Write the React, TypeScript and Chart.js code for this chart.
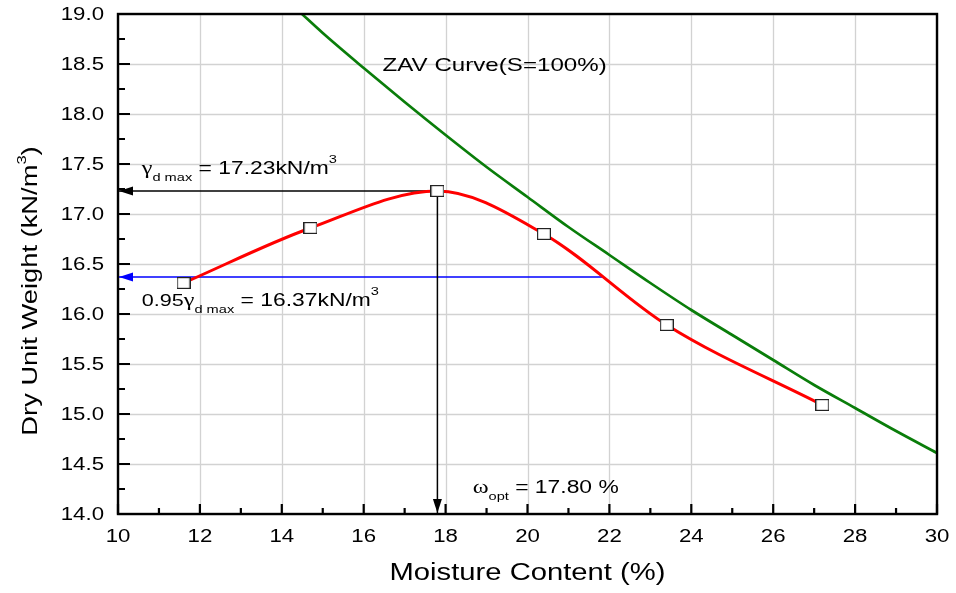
import React, { useEffect, useRef } from "react";
import { Chart, registerables } from "chart.js";

Chart.register(...registerables);

// ---------- data ----------
const moisture = [11.6, 14.7, 17.8, 20.4, 23.4, 27.2];
const dryUnitWeight = [16.31, 16.86, 17.23, 16.8, 15.89, 15.09];

const zavMoisture = [14.44, 15, 16, 17, 18, 19, 20, 21, 22, 23, 24, 25, 26, 27, 28, 29, 30];
const zavWeight = [19.02, 18.81, 18.46, 18.12, 17.79, 17.47, 17.17, 16.87, 16.59, 16.31, 16.04, 15.79, 15.54, 15.29, 15.06, 14.83, 14.61];

const gammaMax = 17.23;
const wOpt = 17.8;
const gamma95 = 16.37;
const gamma95RightX = 21.82;

const xTicks = [10, 12, 14, 16, 18, 20, 22, 24, 26, 28, 30];
const xTickLabels = ["10", "12", "14", "16", "18", "20", "22", "24", "26", "28", "30"];
const yTicks = [14.0, 14.5, 15.0, 15.5, 16.0, 16.5, 17.0, 17.5, 18.0, 18.5, 19.0];
const yTickLabels = ["14.0", "14.5", "15.0", "15.5", "16.0", "16.5", "17.0", "17.5", "18.0", "18.5", "19.0"];

const xTitle = "Moisture Content (%)";
const yTitle = "Dry Unit Weight (kN/m";
const zavLabel = "ZAV Curve(S=100%)";

// ---------- text helpers ----------
const SANS = '"Liberation Sans", Arial, Helvetica, sans-serif';
const SERIF = '"Liberation Serif", "Times New Roman", serif';
const S = 1.27; // horizontal stretch of the original's type

type Part = { t: string; size: number; serif?: boolean; dy?: number };

function partsWidth(ctx: CanvasRenderingContext2D, parts: Part[]) {
  let w = 0;
  for (const p of parts) {
    ctx.font = `${p.size}px ${p.serif ? SERIF : SANS}`;
    w += ctx.measureText(p.t).width * S;
  }
  return w;
}

function drawParts(ctx: CanvasRenderingContext2D, parts: Part[], x: number, y: number) {
  let cx = x;
  ctx.textAlign = "left";
  ctx.textBaseline = "alphabetic";
  for (const p of parts) {
    ctx.font = `${p.size}px ${p.serif ? SERIF : SANS}`;
    const w = ctx.measureText(p.t).width * S;
    ctx.save();
    ctx.translate(cx, y + (p.dy || 0));
    ctx.scale(S, 1);
    ctx.fillText(p.t, 0, 0);
    ctx.restore();
    cx += w;
  }
}

function arrowHead(ctx: CanvasRenderingContext2D, tx: number, ty: number, dir: "left" | "down", color: string) {
  const len = 14;
  const half = 4.5;
  ctx.save();
  ctx.fillStyle = color;
  ctx.beginPath();
  if (dir === "left") {
    ctx.moveTo(tx, ty);
    ctx.lineTo(tx + len, ty - half);
    ctx.lineTo(tx + len, ty + half);
  } else {
    ctx.moveTo(tx, ty);
    ctx.lineTo(tx - half, ty - len);
    ctx.lineTo(tx + half, ty - len);
  }
  ctx.closePath();
  ctx.fill();
  ctx.restore();
}

const decorPlugin = {
  id: "decor",
  beforeDatasetsDraw(chart: any) {
    const ctx: CanvasRenderingContext2D = chart.ctx;
    const xs = chart.scales.x;
    const ys = chart.scales.y;
    const { left, right, top, bottom } = chart.chartArea;
    ctx.save();
    ctx.strokeStyle = "#d2d2d2";
    ctx.lineWidth = 1.3;
    ctx.beginPath();
    xTicks.forEach((v) => {
      const px = Math.round(xs.getPixelForValue(v)) + 0.5;
      ctx.moveTo(px, top);
      ctx.lineTo(px, bottom);
    });
    yTicks.forEach((v) => {
      const py = Math.round(ys.getPixelForValue(v)) + 0.5;
      ctx.moveTo(left, py);
      ctx.lineTo(right, py);
    });
    ctx.stroke();
    ctx.restore();
  },
  afterDraw(chart: any) {
    const ctx: CanvasRenderingContext2D = chart.ctx;
    const xs = chart.scales.x;
    const ys = chart.scales.y;
    const { left, right, top, bottom } = chart.chartArea;

    ctx.save();
    // frame
    ctx.strokeStyle = "#000";
    ctx.lineWidth = 2.4;
    ctx.strokeRect(left, top, right - left, bottom - top);

    // ticks (inward)
    ctx.lineWidth = 2.2;
    ctx.beginPath();
    xTicks.forEach((v, i) => {
      const px = xs.getPixelForValue(v);
      ctx.moveTo(px, bottom);
      ctx.lineTo(px, bottom - 10);
      if (i < xTicks.length - 1) {
        const mx = xs.getPixelForValue((v + xTicks[i + 1]) / 2);
        ctx.moveTo(mx, bottom);
        ctx.lineTo(mx, bottom - 6);
      }
    });
    yTicks.forEach((v, i) => {
      const py = ys.getPixelForValue(v);
      ctx.moveTo(left, py);
      ctx.lineTo(left + 12, py);
      if (i < yTicks.length - 1) {
        const my = ys.getPixelForValue((v + yTicks[i + 1]) / 2);
        ctx.moveTo(left, my);
        ctx.lineTo(left + 7, my);
      }
    });
    ctx.stroke();

    // arrowheads
    arrowHead(ctx, xs.getPixelForValue(10) + 1, ys.getPixelForValue(gammaMax), "left", "#000");
    arrowHead(ctx, xs.getPixelForValue(10) + 1, ys.getPixelForValue(gamma95), "left", "#0000ff");
    arrowHead(ctx, xs.getPixelForValue(wOpt), ys.getPixelForValue(14) - 1, "down", "#000");

    ctx.fillStyle = "#000";
    // tick labels
    xTicks.forEach((v, i) => {
      const parts = [{ t: xTickLabels[i], size: 17.5 }];
      const w = partsWidth(ctx, parts);
      drawParts(ctx, parts, xs.getPixelForValue(v) - w / 2, bottom + 27.5);
    });
    yTicks.forEach((v, i) => {
      const parts = [{ t: yTickLabels[i], size: 17.5 }];
      const w = partsWidth(ctx, parts);
      drawParts(ctx, parts, left - 14 - w, ys.getPixelForValue(v) + 6.3);
    });

    // axis titles
    {
      const parts = [{ t: xTitle, size: 23 }];
      const w = partsWidth(ctx, parts);
      drawParts(ctx, parts, (left + right) / 2 - w / 2, 579.5);
    }
    {
      const parts: Part[] = [
        { t: yTitle, size: 21.5 },
        { t: "3", size: 13, dy: -11 },
        { t: ")", size: 21.5 },
      ];
      const w = partsWidth(ctx, parts);
      ctx.save();
      ctx.translate(37, (top + bottom) / 2 + 27);
      ctx.rotate(-Math.PI / 2);
      drawParts(ctx, parts, -w / 2, 0);
      ctx.restore();
    }

    // annotations
    drawParts(
      ctx,
      [
        { t: "\u03b3", size: 19, serif: true },
        { t: "d max", size: 11.5, dy: 7.4 },
        { t: " = 17.23kN/m", size: 18 },
        { t: "3", size: 11.5, dy: -11 },
      ],
      xs.getPixelForValue(10.58),
      ys.getPixelForValue(17.4)
    );
    drawParts(
      ctx,
      [
        { t: "0.95", size: 17 },
        { t: "\u03b3", size: 19, serif: true },
        { t: "d max", size: 11.5, dy: 7.4 },
        { t: " = 16.37kN/m", size: 18 },
        { t: "3", size: 11.5, dy: -11 },
      ],
      xs.getPixelForValue(10.58),
      ys.getPixelForValue(16.08)
    );
    drawParts(
      ctx,
      [
        { t: "\u03c9", size: 19, serif: true },
        { t: "opt", size: 11.5, dy: 7.4 },
        { t: " = 17.80 %", size: 18 },
      ],
      xs.getPixelForValue(18.66),
      ys.getPixelForValue(14.21)
    );
    drawParts(ctx, [{ t: zavLabel, size: 19 }], xs.getPixelForValue(16.46), ys.getPixelForValue(18.43));

    ctx.restore();
  },
};

export default function App() {
  const ref = useRef<HTMLCanvasElement | null>(null);

  useEffect(() => {
    if (!ref.current) return;
    const mk = document.createElement("canvas");
    mk.width = 14;
    mk.height = 12;
    const mc = mk.getContext("2d")!;
    mc.fillStyle = "#fff";
    mc.fillRect(0.5, 0.5, 13, 11);
    mc.strokeStyle = "#222";
    mc.lineWidth = 1.2;
    mc.strokeRect(0.6, 0.6, 12.8, 10.8);

    const chart = new Chart(ref.current, {
      type: "scatter",
      data: {
        datasets: [
          {
            data: moisture.map((x, i) => ({ x, y: dryUnitWeight[i] })),
            showLine: true,
            borderColor: "#ff0000",
            borderWidth: 3,
            cubicInterpolationMode: "monotone",
            pointStyle: mk as any,
            pointRadius: 6,
          },
          {
            data: zavMoisture.map((x, i) => ({ x, y: zavWeight[i] })),
            showLine: true,
            borderColor: "#0a7d0a",
            borderWidth: 2.7,
            cubicInterpolationMode: "monotone",
            pointRadius: 0,
          },
          {
            data: [
              { x: 10, y: gammaMax },
              { x: wOpt, y: gammaMax },
            ],
            showLine: true,
            borderColor: "#000",
            borderWidth: 1.5,
            pointRadius: 0,
          },
          {
            data: [
              { x: wOpt, y: gammaMax },
              { x: wOpt, y: 14 },
            ],
            showLine: true,
            borderColor: "#000",
            borderWidth: 1.5,
            pointRadius: 0,
          },
          {
            data: [
              { x: 10, y: gamma95 },
              { x: gamma95RightX, y: gamma95 },
            ],
            showLine: true,
            borderColor: "#0000ff",
            borderWidth: 1.5,
            pointRadius: 0,
          },
        ],
      } as any,
      options: {
        responsive: false,
        animation: false,
        events: [],
        layout: { padding: { left: 118, right: 19, top: 14, bottom: 79 } },
        plugins: {
          legend: { display: false },
          tooltip: { enabled: false },
        },
        scales: {
          x: {
            type: "linear",
            min: 10,
            max: 30,
            ticks: { display: false, stepSize: 2 },
            grid: { display: false },
            border: { display: false },
            afterFit: (s: any) => {
              s.height = 0;
            },
          },
          y: {
            type: "linear",
            min: 14,
            max: 19,
            ticks: { display: false, stepSize: 0.5 },
            grid: { display: false },
            border: { display: false },
            afterFit: (s: any) => {
              s.width = 0;
            },
          },
        },
      } as any,
      plugins: [decorPlugin],
    });
    return () => chart.destroy();
  }, []);

  return (
    <div style={{ position: "fixed", left: 0, top: 0, width: 956, height: 593, background: "#fff" }}>
      <canvas ref={ref} width={956} height={593} style={{ display: "block" }} />
    </div>
  );
}
